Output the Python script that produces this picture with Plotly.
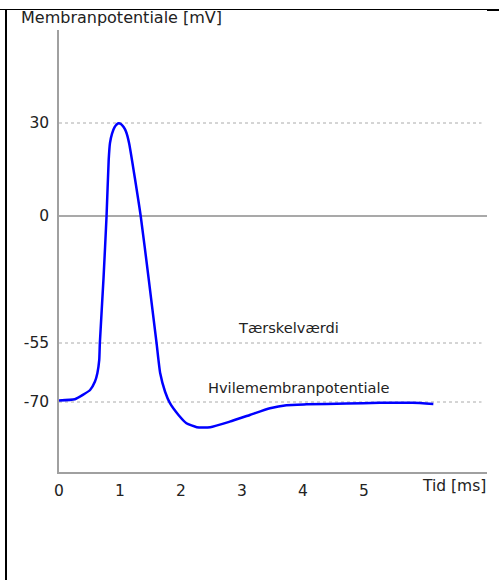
import numpy as np
import plotly.graph_objects as go

# ---- data ----
time_ms = [0.00, 0.26, 0.39, 0.51, 0.59, 0.63, 0.66, 0.67, 0.73, 0.78, 0.815, 0.836, 0.87, 0.91,
           0.95, 0.98, 1.02, 1.06, 1.10, 1.15, 1.34, 1.47, 1.60, 1.66, 1.74, 1.82, 1.96, 2.09,
           2.26, 2.48, 2.80, 3.13, 3.46, 3.73, 4.06, 4.72, 5.26, 5.80, 6.14]
potential_mv = [-69.6, -69.3, -68.2, -66.95, -64.8, -62.6, -59.3, -55.0, -27.0, 0.0, 18.1, 23.5, 26.6, 28.6,
                29.6, 29.9, 29.6, 28.7, 27.2, 23.5, 0.0, -27.0, -55.0, -62.7, -67.4, -70.3, -73.3, -75.4,
                -76.4, -76.4, -75.0, -73.3, -71.6, -70.8, -70.6, -70.4, -70.2, -70.2, -70.5]

y_tick_mv = [30, 0, -55, -70]
y_tick_text = ["30", "0", "-55", "-70"]
x_tick_ms = [0, 1, 2, 3, 4, 5]
x_tick_text = ["0", "1", "2", "3", "4", "5"]
dotted_levels_mv = [30, -55, -70]
zero_level_mv = 0
level_labels = [("Tærskelværdi", 3.76, -55, 5.5), ("Hvilemembranpotentiale", 3.92, -70, 4.5)]

y_title = "Membranpotentiale [mV]"
x_title = "Tid [ms]"

# schematic (non-linear) vertical scale of the original drawing
SCALE_MV = [-90, -70, -55, 0, 30, 44.5]
SCALE_POS = [70 - 20 * 59 / 15, 70, 129, 256, 349, 442]


def ypos(v):
    return np.interp(v, SCALE_MV, SCALE_POS)


W, H = 499, 580
L, R, T, B = 59, 12, 30, 108
PW, PH = W - L - R, H - T - B
X_MAX = 7.02
X_DOT_END = 6.93


def px(x):
    return (x - L) / PW


def py(y):
    return (H - B - y) / PH


TEXT = "#222222"
FONT = "DejaVu Sans"

fig = go.Figure()
fig.add_trace(go.Scatter(
    x=time_ms, y=ypos(np.array(potential_mv)), mode="lines",
    line=dict(color="#0000ff", width=2.5, shape="spline", smoothing=0.5),
    hoverinfo="skip", showlegend=False))

shapes = []
for lv in dotted_levels_mv:
    shapes.append(dict(type="line", xref="x", yref="y", x0=0, x1=X_DOT_END,
                       y0=float(ypos(lv)), y1=float(ypos(lv)),
                       line=dict(color="#aaaaaa", width=1, dash="dot"), layer="below"))
shapes.append(dict(type="line", xref="x", yref="y", x0=0, x1=X_MAX,
                   y0=float(ypos(zero_level_mv)), y1=float(ypos(zero_level_mv)),
                   line=dict(color="#8c8c8c", width=1.3), layer="below"))
# surrounding frame lines of the original picture
shapes.append(dict(type="line", xref="paper", yref="paper", x0=px(0), x1=px(W),
                   y0=py(9.5), y1=py(9.5), line=dict(color="black", width=1)))
shapes.append(dict(type="line", xref="paper", yref="paper", x0=px(487), x1=px(W),
                   y0=py(10), y1=py(10), line=dict(color="black", width=2)))
shapes.append(dict(type="line", xref="paper", yref="paper", x0=px(6), x1=px(6),
                   y0=py(9), y1=py(H), line=dict(color="black", width=2)))

annotations = []
for txt, xm, lv, ys in level_labels:
    annotations.append(dict(text=txt, x=xm, y=float(ypos(lv)), xref="x", yref="y",
                            xanchor="center", yanchor="bottom", yshift=ys, showarrow=False,
                            font=dict(family=FONT, size=14.6, color=TEXT)))
annotations.append(dict(text=y_title, x=px(19), y=py(17), xref="paper", yref="paper",
                        xanchor="left", yanchor="middle", showarrow=False,
                        font=dict(family=FONT, size=16, color=TEXT)))
annotations.append(dict(text=x_title, x=px(488), y=py(486), xref="paper", yref="paper",
                        xanchor="right", yanchor="middle", showarrow=False,
                        font=dict(family=FONT, size=15.5, color=TEXT)))

fig.update_layout(
    width=W, height=H,
    margin=dict(l=L, r=R, t=T, b=B, pad=0),
    paper_bgcolor="white", plot_bgcolor="white",
    font=dict(family=FONT, color=TEXT, size=15.5),
    shapes=shapes, annotations=annotations,
    xaxis=dict(range=[0, X_MAX], tickvals=x_tick_ms, ticktext=x_tick_text,
               showgrid=False, zeroline=False, showline=True, linecolor="#a0a0a0", linewidth=1.5,
               ticks="", ticklabelstandoff=4, fixedrange=True),
    yaxis=dict(range=[0, PH], tickvals=[float(ypos(v)) for v in y_tick_mv], ticktext=y_tick_text,
               showgrid=False, zeroline=False, showline=True, linecolor="#a0a0a0", linewidth=1.5,
               ticks="", ticklabelstandoff=5, fixedrange=True),
)

fig.write_html("out.html")
